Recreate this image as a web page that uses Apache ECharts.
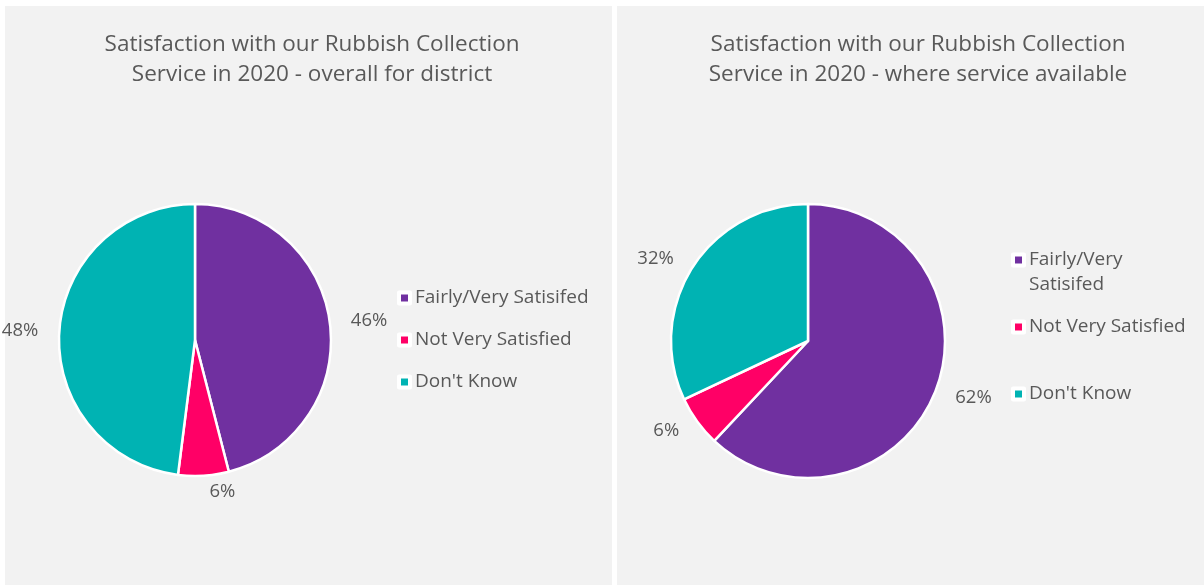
<!DOCTYPE html>
<html>
<head>
<meta charset="utf-8">
<style>
html, body { margin: 0; padding: 0; background: #ffffff; }
#main { width: 1204px; height: 585px; }
</style>
<script src="https://cdn.jsdelivr.net/npm/echarts@6/dist/echarts.min.js"></script>
</head>
<body>
<div id="main"></div>
<script>
// categories and values
let categories = ['Fairly/Very Satisifed', 'Not Very Satisfied', "Don't Know"];
let colours = ['#7030a0', '#ff0066', '#00b3b3'];
let district_values = [46, 6, 48];
let available_values = [62, 6, 32];
let titles = [
	'Satisfaction with our Rubbish Collection\nService in 2020 - overall for district',
	'Satisfaction with our Rubbish Collection\nService in 2020 - where service available'
];

let font = 'Open Sans';
let grey = '#595959';

function pie_data(values){
	return categories.map(function(name, i){
		return { name: name, value: values[i], itemStyle: { color: colours[i] } };
	});
}

function pie_series(values, center, radius){
	return {
		type: 'pie',
		center: center,
		radius: radius,
		startAngle: 90,
		clockwise: true,
		avoidLabelOverlap: false,
		animation: false,
		itemStyle: { borderColor: '#ffffff', borderWidth: 2.5 },
		label: {
			show: true,
			position: 'outside',
			formatter: '{c}%',
			color: grey,
			fontFamily: font,
			fontSize: 18.5
		},
		labelLine: { show: false, length: 16, length2: 0 },
		emphasis: { disabled: true },
		data: pie_data(values)
	};
}

// one legend per entry so each can sit where the reference has it
function legend_item(name, left, top, label){
	return {
		orient: 'vertical',
		left: left,
		top: top,
		data: [name],
		icon: 'rect',
		itemWidth: 11,
		itemHeight: 11,
		itemGap: 0,
		itemStyle: { borderColor: '#ffffff', borderWidth: 4 },
		formatter: label ? function(){ return label; } : '{name}',
		textStyle: {
			color: grey,
			fontFamily: font,
			fontSize: 19,
			lineHeight: 25
		},
		selectedMode: false
	};
}

let chart = echarts.init(document.getElementById('main'));

let option = {
	backgroundColor: '#ffffff',
	graphic: [
		{ type: 'rect', shape: { x: 5, y: 6, width: 607, height: 579 }, style: { fill: '#f2f2f2' }, z: -10 },
		{ type: 'rect', shape: { x: 617, y: 6, width: 587, height: 579 }, style: { fill: '#f2f2f2' }, z: -10 }
	],
	title: [
		{
			text: titles[0], left: 307, top: 25, textAlign: 'center',
			textStyle: { color: grey, fontFamily: font, fontSize: 22.5, fontWeight: 'normal', lineHeight: 30 }
		},
		{
			text: titles[1], left: 913, top: 25, textAlign: 'center',
			textStyle: { color: grey, fontFamily: font, fontSize: 22.5, fontWeight: 'normal', lineHeight: 30 }
		}
	],
	legend: [
		legend_item(categories[0], 392, 280.5),
		legend_item(categories[1], 392, 322.5),
		legend_item(categories[2], 392, 364.5),
		// leading blank line puts the first line level with the marker
		legend_item(categories[0], 1006, 217.5, ' \nFairly/Very\nSatisifed'),
		legend_item(categories[1], 1006, 309.5),
		legend_item(categories[2], 1006, 376.5)
	],
	series: [
		pie_series(district_values, [195, 340], 136),
		pie_series(available_values, [808, 341], 137)
	]
};

chart.setOption(option);
</script>
</body>
</html>
